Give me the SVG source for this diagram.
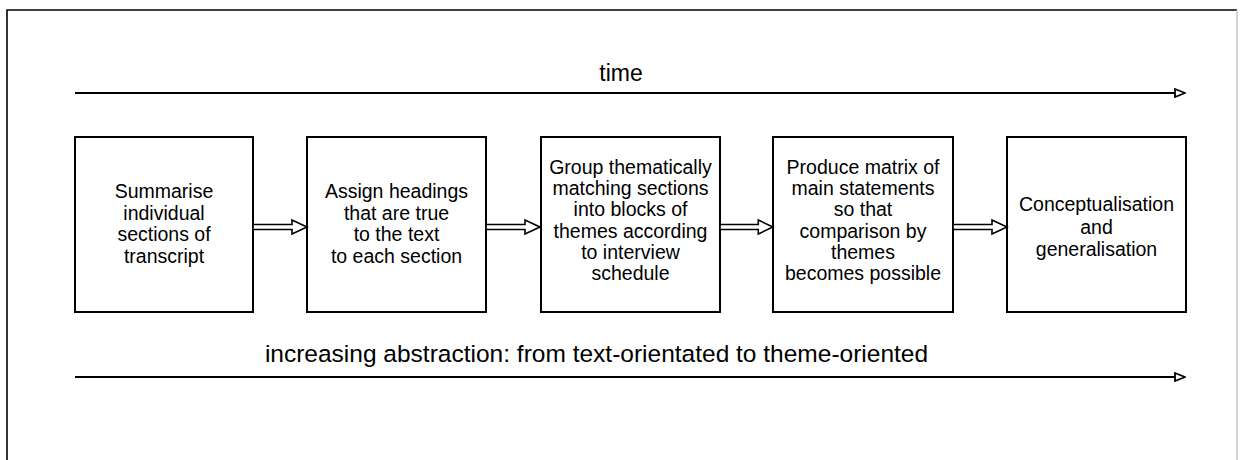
<svg xmlns="http://www.w3.org/2000/svg" width="1241" height="460" viewBox="0 0 1241 460">
  <style>
    .box { fill: #ffffff; stroke: #000000; stroke-width: 2; }
    .lbl { font-family: "Liberation Sans", Arial, sans-serif; font-size: 19.5px; fill: #000000; text-anchor: middle; }
    .axis { stroke: #000000; stroke-width: 2; fill: none; }
    .axislbl { font-family: "Liberation Sans", Arial, sans-serif; fill: #000000; text-anchor: middle; }
    .step { fill: #ffffff; stroke: #000000; stroke-width: 1.6; stroke-linejoin: miter; }
  </style>
  <defs>
    <marker id="openHead" viewBox="0 0 12 10" refX="11" refY="5" markerWidth="12" markerHeight="10" markerUnits="userSpaceOnUse" orient="auto">
      <path d="M1,1 L11,5 L1,9 Z" fill="#ffffff" stroke="#000000" stroke-width="1.8"/>
    </marker>
    <!-- hollow block arrow used between consecutive steps, drawn from x=0 -->
    <polygon id="stepArrow" points="0,-2.5 39,-2.5 39,-7 54,0 39,7 39,2.5 0,2.5"/>
  </defs>

  <rect width="1241" height="460" fill="#ffffff"/>

  <!-- page frame -->
  <path d="M7,460 L7,10 L1237,10" fill="none" stroke="#000000" stroke-width="1.6"/>
  <line x1="1237" y1="10" x2="1237" y2="460" stroke="#c8c8c8" stroke-width="1.6"/>

  <!-- axes -->
  <g id="axes">
    <text class="axislbl" x="621" y="81" font-size="23">time</text>
    <line class="axis" x1="75" y1="93" x2="1185" y2="93" marker-end="url(#openHead)"/>
    <text class="axislbl" x="596.5" y="362" font-size="24.5">increasing abstraction: from text-orientated to theme-oriented</text>
    <line class="axis" x1="75" y1="377" x2="1185" y2="377" marker-end="url(#openHead)"/>
  </g>

  <!-- steps -->
  <g id="step1">
    <rect class="box" x="75" y="137" width="178" height="175"/>
    <text class="lbl" x="164" y="198">Summarise</text>
    <text class="lbl" x="164" y="219.5">individual</text>
    <text class="lbl" x="164" y="241">sections of</text>
    <text class="lbl" x="164" y="262.5">transcript</text>
  </g>
  <g id="step2">
    <rect class="box" x="307" y="137" width="179" height="175"/>
    <text class="lbl" x="396.5" y="198">Assign headings</text>
    <text class="lbl" x="396.5" y="219.5">that are true</text>
    <text class="lbl" x="396.5" y="241">to the text</text>
    <text class="lbl" x="396.5" y="262.5">to each section</text>
  </g>
  <g id="step3">
    <rect class="box" x="541" y="137" width="179" height="175"/>
    <text class="lbl" x="630.5" y="174">Group thematically</text>
    <text class="lbl" x="630.5" y="195.2">matching sections</text>
    <text class="lbl" x="630.5" y="216.4">into blocks of</text>
    <text class="lbl" x="630.5" y="237.6">themes according</text>
    <text class="lbl" x="630.5" y="258.8">to interview</text>
    <text class="lbl" x="630.5" y="280">schedule</text>
  </g>
  <g id="step4">
    <rect class="box" x="773" y="137" width="180" height="175"/>
    <text class="lbl" x="863" y="174">Produce matrix of</text>
    <text class="lbl" x="863" y="195.2">main statements</text>
    <text class="lbl" x="863" y="216.4">so that</text>
    <text class="lbl" x="863" y="237.6">comparison by</text>
    <text class="lbl" x="863" y="258.8">themes</text>
    <text class="lbl" x="863" y="280">becomes possible</text>
  </g>
  <g id="step5">
    <rect class="box" x="1007" y="137" width="179" height="175"/>
    <text class="lbl" x="1096.5" y="211">Conceptualisation</text>
    <text class="lbl" x="1096.5" y="233.5">and</text>
    <text class="lbl" x="1096.5" y="256">generalisation</text>
  </g>

  <!-- connectors between steps -->
  <g id="connectors">
    <use href="#stepArrow" class="step" transform="translate(253,227)"/>
    <use href="#stepArrow" class="step" transform="translate(486,227)"/>
    <use href="#stepArrow" class="step" transform="translate(720,227) scale(0.981,1)"/>
    <use href="#stepArrow" class="step" transform="translate(953,227)"/>
  </g>
</svg>
